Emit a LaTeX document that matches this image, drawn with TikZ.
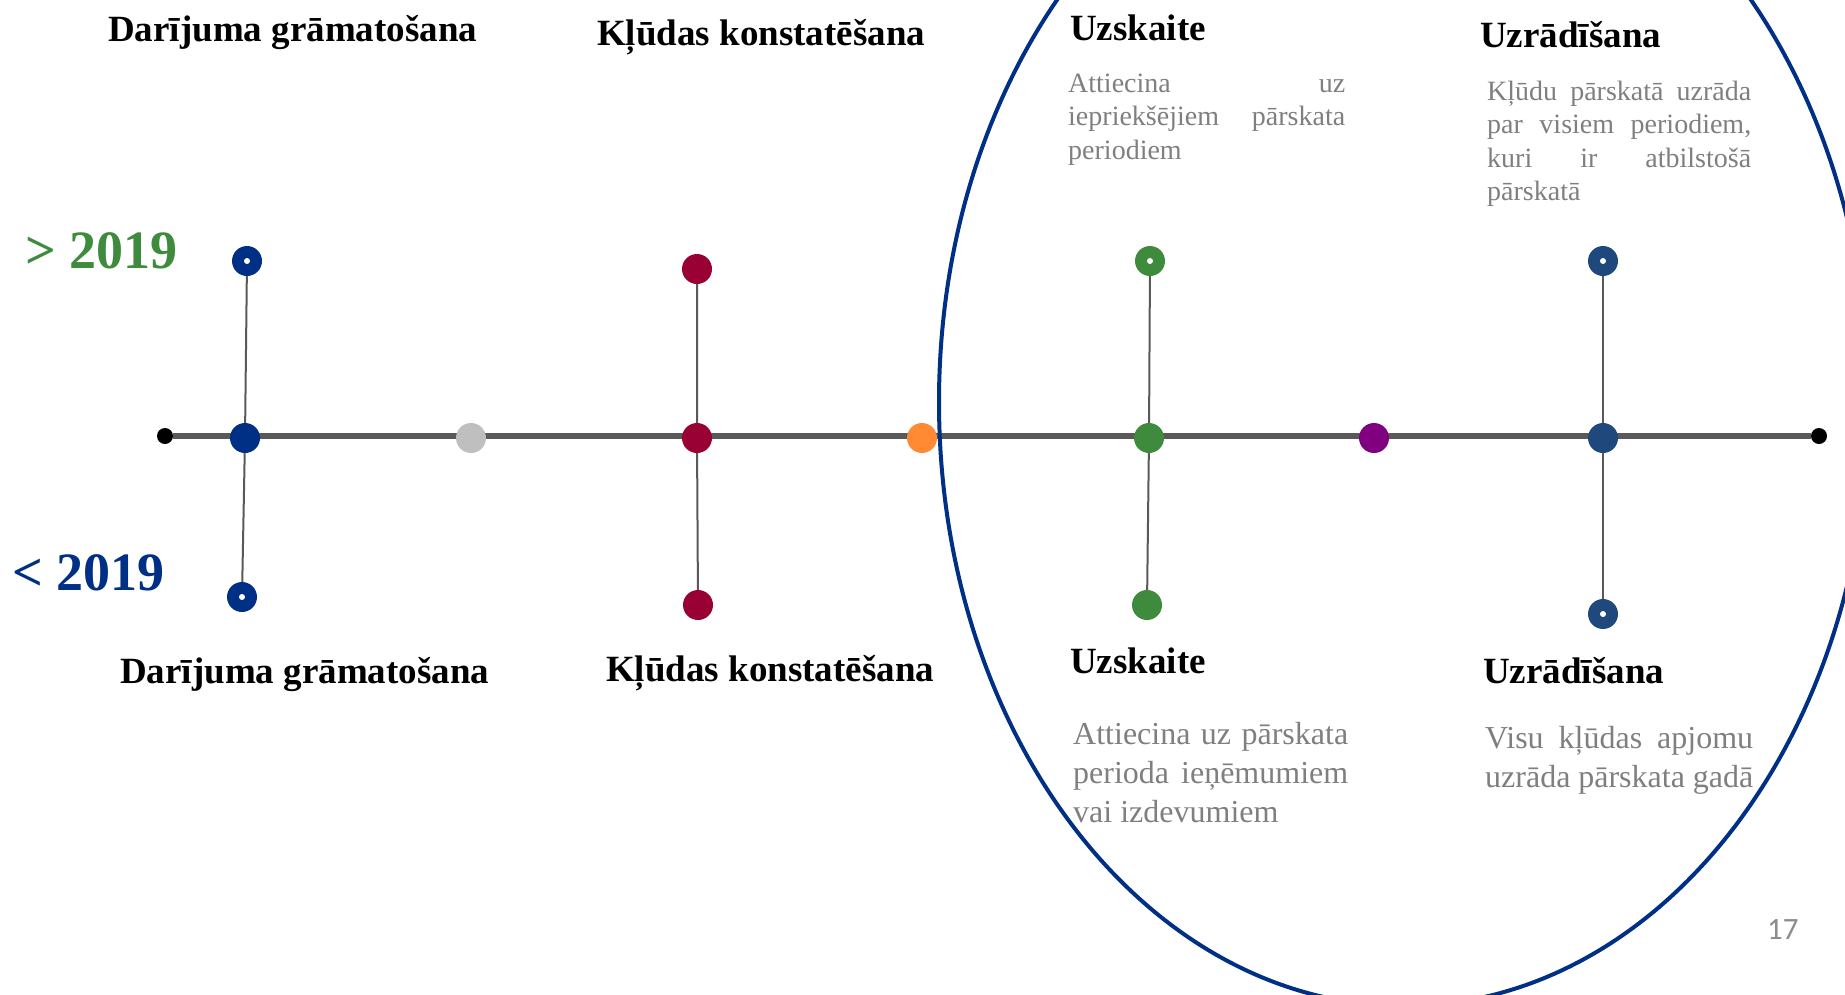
\documentclass[tikz,border=0pt]{standalone}
\usepackage{fontspec}
\setmainfont{Liberation Serif}
\newfontfamily\pagefont{Carlito}
\usepackage{xcolor}
\usetikzlibrary{backgrounds}

\definecolor{darblue}{HTML}{002F86}
\definecolor{klured}{HTML}{990033}
\definecolor{uzsgreen}{HTML}{3E8B3E}
\definecolor{uzrnavy}{HTML}{1F497D}
\definecolor{midgray}{HTML}{BFBFBF}
\definecolor{midorange}{HTML}{FF8A33}
\definecolor{midpurple}{HTML}{800080}
\definecolor{linegray}{HTML}{595959}
\definecolor{textgray}{HTML}{7F7F7F}
\definecolor{pagegray}{HTML}{8C8C8C}

\tikzset{
	bigdot/.style={circle,fill=#1,minimum size=30pt,inner sep=0pt},
	enddot/.style={circle,fill=black,minimum size=16pt,inner sep=0pt},
	stem/.style={line width=2pt,linegray},
	head/.style={anchor=base west,inner sep=0pt,font=\fontsize{37}{44}\selectfont\bfseries},
	year/.style={anchor=base west,inner sep=0pt,font=\fontsize{54}{60}\selectfont\bfseries},
	smalltext/.style={anchor=base west,inner sep=0pt,text width=#1,align=justify,text=textgray,font=\fontsize{28}{33.6}\selectfont},
	bigtext/.style={anchor=base west,inner sep=0pt,text width=#1,align=justify,text=textgray,font=\fontsize{32}{39}\selectfont}
}

\begin{document}
\begin{tikzpicture}[x=1pt,y=-1pt]
		\useasboundingbox (0,0) rectangle (1845,994);
		% timeline
		\node[enddot] (lend) at (165,436) {};
		\node[enddot] (rend) at (1819,436) {};
		\node[bigdot=darblue] (darm) at (245,438) {};
		\node[bigdot=midgray] (grm) at (471,438) {};
		\node[bigdot=klured] (klum) at (697,438) {};
		\node[bigdot=midorange] (orm) at (922,438) {};
		\node[bigdot=uzsgreen] (uzsm) at (1149,438) {};
		\node[bigdot=midpurple] (pum) at (1374,438) {};
		\node[bigdot=uzrnavy] (uzrm) at (1603,438) {};
		% upper and lower dots
		\node[bigdot=darblue] (dart) at (247,261) {};
		\node[bigdot=darblue] (darb) at (242,597) {};
		\node[bigdot=klured] (klut) at (697,269) {};
		\node[bigdot=klured] (klub) at (698,605) {};
		\node[bigdot=uzsgreen] (uzst) at (1150,261) {};
		\node[bigdot=uzsgreen] (uzsb) at (1147,605) {};
		\node[bigdot=uzrnavy] (uzrt) at (1603,261) {};
		\node[bigdot=uzrnavy] (uzrb) at (1603,614) {};
		\foreach \n in {dart,darb,uzst,uzrt,uzrb}
			\fill[white] (\n) circle (3pt);
		\begin{scope}[on background layer]
			\draw[line width=6pt,linegray] (lend) -- (rend);
			\draw[stem] (dart) -- (darm) -- (darb);
			\draw[stem] (klut) -- (klum) -- (klub);
			\draw[stem] (uzst) -- (uzsm) -- (uzsb);
			\draw[stem] (uzrt) -- (uzrm) -- (uzrb);
		\end{scope}
		% ellipse
		\draw[line width=4pt,darblue] (1404,402) ellipse [x radius=465pt,y radius=604pt];
		% years
		\node[year,uzsgreen] (newer) at (25,268) {> 2019};
		\node[year,darblue] (older) at (12,590) {< 2019};
		% upper texts
		\node[head] (darhead) at (108,41) {Darījuma grāmatošana};
		\node[head] (kluhead) at (597,45) {Kļūdas konstatēšana};
		\node[head] (uzshead) at (1070,40) {Uzskaite};
		\node[head] (uzrhead) at (1480,47) {Uzrādīšana};
		\node[smalltext=277pt] (uzstext) at (1068,92) {Attiecina uz\linebreak iepriekšējiem pārskata\linebreak periodiem};
		\node[smalltext=264pt] (uzrtext) at (1487,100) {Kļūdu pārskatā uzrāda\linebreak par visiem periodiem,\linebreak kuri ir atbilstošā\linebreak pārskatā};
		% lower texts
		\node[head] (darfoot) at (120,683) {Darījuma grāmatošana};
		\node[head] (klufoot) at (606,681) {Kļūdas konstatēšana};
		\node[head] (uzsfoot) at (1070,673) {Uzskaite};
		\node[head] (uzrfoot) at (1483,683) {Uzrādīšana};
		\node[bigtext=275pt] (uzsbtext) at (1073,744) {Attiecina uz pārskata\linebreak perioda ieņēmumiem\linebreak vai izdevumiem};
		\node[bigtext=268pt] (uzrbtext) at (1485,748) {Visu kļūdas apjomu\linebreak uzrāda pārskata gadā};
		% page number
		\node[anchor=base west,inner sep=0pt,pagegray,font=\pagefont\fontsize{31}{36}\selectfont] (pagenum) at (1767,939) {17};
	\end{tikzpicture}
\end{document}
